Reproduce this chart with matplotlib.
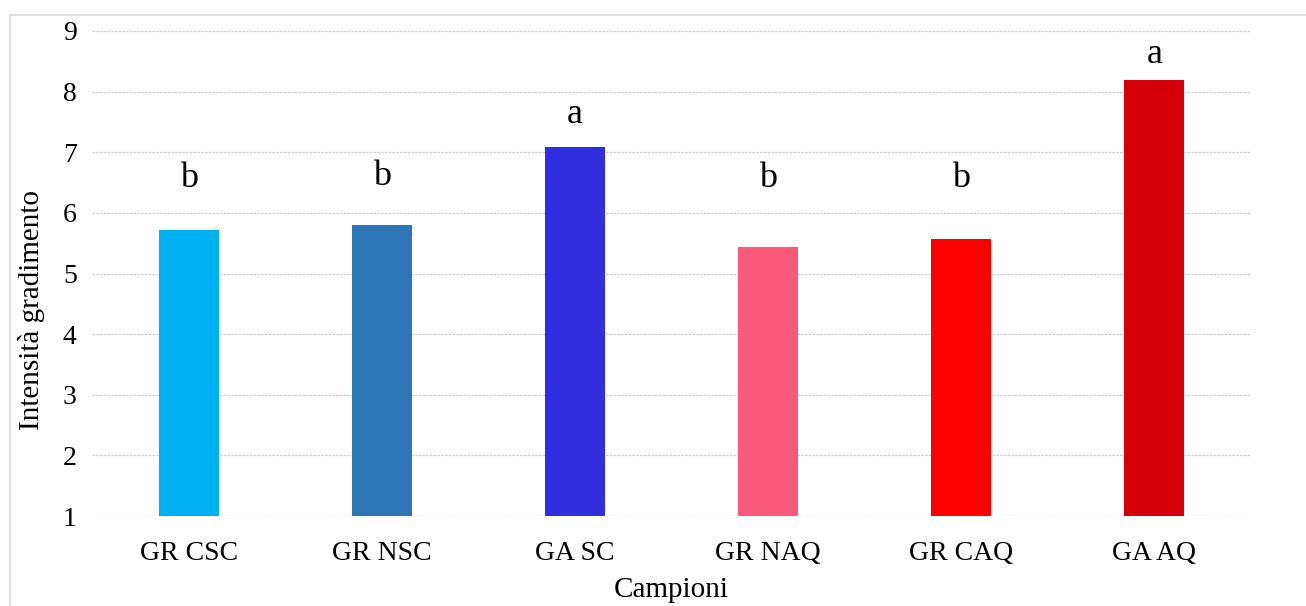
import matplotlib as mpl
mpl.use("Agg")
import matplotlib.pyplot as plt
from matplotlib.patches import Rectangle

# data
campioni = ['GR CSC', 'GR NSC', 'GA SC', 'GR NAQ', 'GR CAQ', 'GA AQ']
gradimento = [5.72, 5.80, 7.09, 5.44, 5.57, 8.19]
lettere = ['b', 'b', 'a', 'b', 'b', 'a']
lettere_y = [6.57, 6.60, 7.63, 6.57, 6.57, 8.62]
colori = ['#00B0F0', '#2E75B6', '#2F2FE0', '#F95A7A', '#FF0000', '#D50008']

plt.rcParams['font.family'] = ['Liberation Serif', 'DejaVu Serif']

fig = plt.figure(figsize=(13.06, 6.06), dpi=100)
fig.patches.append(Rectangle((10 / 1306, -0.1), 1.2, 1 - 15 / 606 + 0.1,
                             transform=fig.transFigure, fill=False,
                             edgecolor='#D9D9D9', linewidth=1.2))
ax = fig.add_axes([92 / 1306, 1 - 516 / 606, (1251 - 92) / 1306, (516 - 31) / 606])

x = range(len(campioni))
ax.bar(x, [v - 1 for v in gradimento], bottom=1, width=0.31, color=colori, zorder=3)
for i in x:
    ax.text(i, lettere_y[i], lettere[i], ha='center', va='center', fontsize=26)

ax.set_xlim(-0.5, 5.5)
ax.set_ylim(1, 9)
ax.set_yticks(range(1, 10))
ax.set_xticks(list(x))
ax.set_xticklabels(campioni)
ax.tick_params(axis='both', length=0, labelsize=20)
ax.tick_params(axis='y', pad=11)
ax.tick_params(axis='x', pad=18)
ax.yaxis.grid(True, color='#CFCFCF', linestyle=(0, (2, 1)), linewidth=0.9, zorder=0)
for s in ax.spines.values():
    s.set_visible(False)

ax.set_ylabel('Intensità gradimento', fontsize=21)
ax.yaxis.set_label_coords(-(92 - 45) / (1251 - 92), (516 - 310) / (516 - 31))
ax.set_xlabel('Campioni', fontsize=21, labelpad=8)

fig.savefig('out.png', dpi=100)
